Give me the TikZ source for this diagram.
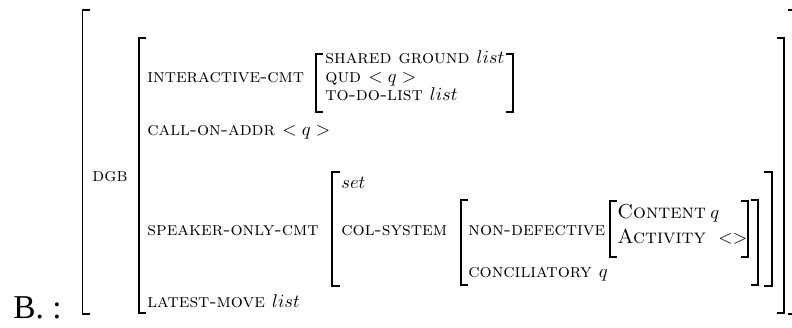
\documentclass[tikz,border=0pt]{standalone}
\usepackage{fontspec}
\newfontfamily\examplefont{Liberation Serif}
\tikzset{
  feat/.style={anchor=base west, inner sep=0pt, font=\fontsize{10.3}{12.5}\selectfont\scshape},
  bigfeat/.style={anchor=base west, inner sep=0pt, font=\fontsize{10.9}{13}\selectfont\scshape},
  mval/.style={anchor=base west, inner sep=0pt, font=\fontsize{10.4}{12.5}\selectfont},
  extag/.style={anchor=base west, inner sep=0pt, font=\examplefont\fontsize{18}{21}\selectfont},
  brak/.style={line width=0.8pt},
}
\begin{document}
\begin{tikzpicture}[x=0.54pt,y=-0.54pt]
\useasboundingbox (0,0) rectangle (792,327);
\clip (0,0) rectangle (792,327);
% example tag
\node[extag] (ex) at (13,318) {B. :};
% outermost bracket pair
\draw[brak] (90,10) -- (82.5,10) -- (82.5,314) -- (90,314);
\draw[brak] (788,10) -- (796,10) -- (796,314) -- (788,314);
\node[feat] (dgb) at (92,181) {dgb};
% value of DGB
\draw[brak] (146,38) -- (139,38) -- (139,313) -- (146,313);
\draw[brak] (777,38) -- (784,38) -- (784,313) -- (777,313);
\node[feat] (icmt) at (147,82) {interactive-cmt};
\draw[brak] (323,54) -- (316,54) -- (316,112) -- (323,112);
\draw[brak] (506,54) -- (513,54) -- (513,112) -- (506,112);
\node[feat] (sg) at (325,63) {shared ground $list$};
\node[feat] (qud) at (325,82) {qud $<q>$};
\node[feat] (todo) at (325,100) {to-do-list $list$};
\node[feat] (coa) at (147,135) {call-on-addr $<q>$};
\node[feat] (socmt) at (147,235) {speaker-only-cmt};
% value of SPEAKER-ONLY-CMT
\draw[brak] (340,172) -- (332,172) -- (332,286) -- (340,286);
\draw[brak] (764,172) -- (772,172) -- (772,286) -- (764,286);
\node[mval] (set) at (341,188) {$set$};
\node[feat] (colsys) at (341,235) {col-system};
% value of COL-SYSTEM
\draw[brak] (468,200) -- (461,200) -- (461,285) -- (468,285);
\draw[brak] (751,200) -- (758,200) -- (758,285) -- (751,285);
\node[feat] (nondef) at (468,235) {non-defective};
% value of NON-DEFECTIVE
\draw[brak] (617,201) -- (610,201) -- (610,257) -- (617,257);
\draw[brak] (741,201) -- (748,201) -- (748,257) -- (741,257);
\node[bigfeat] (cont) at (617,218) {Content};
\node[mval] (contv) at (710,218) {$q$};
\node[bigfeat] (act) at (617,243) {Activity};
\node[mval] (actv) at (718,243) {$<>$};
\node[feat] (conc) at (468,277) {conciliatory $q$};
\node[feat] (lm) at (147,307) {latest-move $list$};
\end{tikzpicture}
\end{document}
